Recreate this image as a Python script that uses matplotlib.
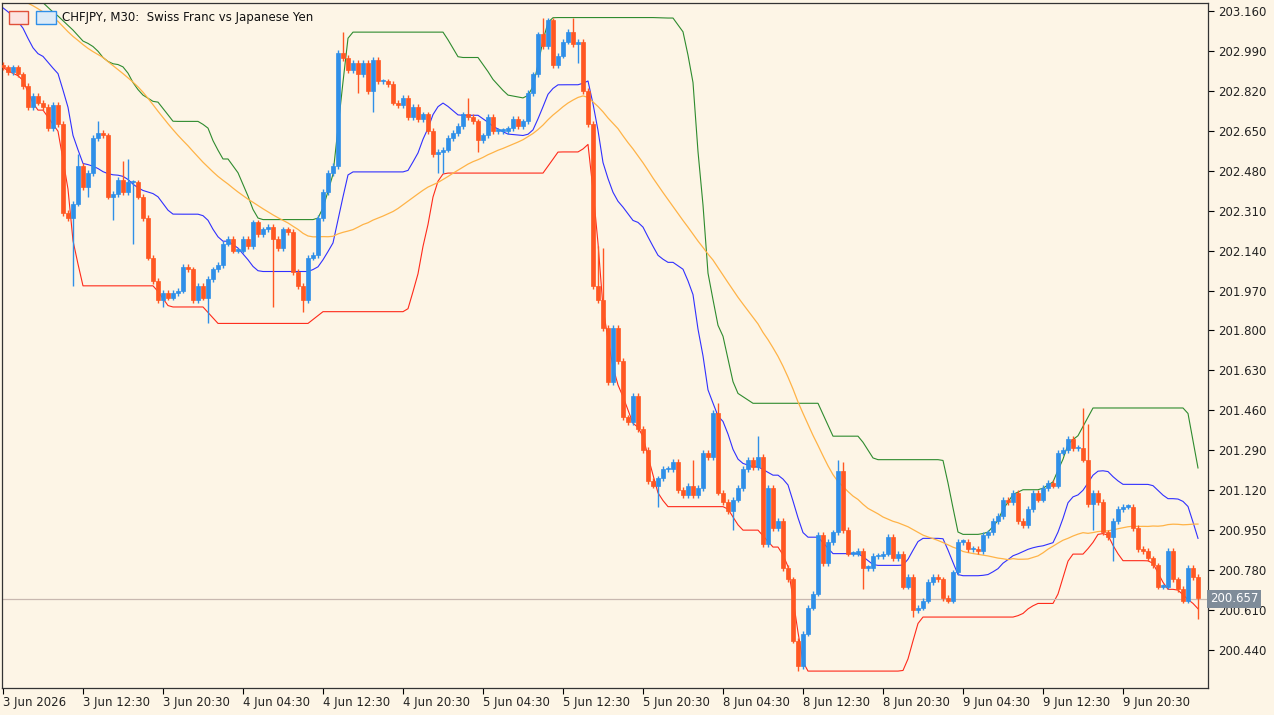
import numpy as np
import pandas as pd
import matplotlib
matplotlib.use("Agg")
import matplotlib.pyplot as plt
from matplotlib.patches import Rectangle

symbol_title = "CHFJPY, M30:  Swiss Franc vs Japanese Yen"

# bars before the visible window (warm-up for indicators)
pre_close = [203.22,203.25,203.20,203.24,203.27,203.23,203.26,203.21,203.19,203.22,
             203.30,203.33,203.36,203.38,203.35,203.40,203.42,203.38,203.36,203.39,203.41,203.37,
             203.33,203.35,203.30,203.28,203.31,203.27,203.24,203.26,203.22,203.25,203.29,203.32,
             203.35,203.38,203.42,203.40,203.37,203.33,203.30,203.26,203.22,203.18,203.20,203.15,
             203.12,203.14,203.10,203.06,203.08,203.04,203.00,202.98,203.01,202.97,202.95,202.93]

close = [202.92,202.90,202.92,202.89,202.84,202.75,202.80,202.77,202.75,202.66,
         202.76,202.68,202.30,202.28,202.34,202.50,202.41,202.47,202.62,202.64,
         202.63,202.37,202.38,202.44,202.39,202.43,202.43,202.37,202.28,202.11,
         202.01,201.93,201.96,201.94,201.96,201.97,202.07,202.06,201.93,201.99,
         201.94,202.02,202.06,202.08,202.17,202.19,202.14,202.14,202.19,202.16,
         202.26,202.21,202.23,202.24,202.19,202.15,202.23,202.22,202.05,201.99,
         201.93,202.11,202.12,202.28,
         202.39,202.47,202.50,202.98,202.96,202.91,202.94,202.89,202.94,202.82,
         202.95,202.86,202.86,202.85,202.77,202.76,202.79,202.71,202.75,202.70,
         202.72,202.65,202.55,202.56,202.57,202.62,202.64,202.67,202.72,202.71,
         202.69,202.61,202.63,202.71,202.65,202.65,202.65,202.66,202.70,202.67,
         202.69,202.81,202.89,203.06,203.01,203.12,202.93,202.97,203.03,203.07,
         203.02,203.03,202.82,202.68,201.99,201.93,201.81,201.58,201.81,201.67,
         201.43,201.41,201.52,201.38,201.29,201.16,201.14,201.17,201.21,201.21,
         201.24,201.12,201.10,201.14,201.10,201.13,201.28,201.26,201.45,201.11,
         201.07,201.03,201.08,201.13,201.21,201.25,201.22,201.26,200.89,201.13,
         200.96,200.99,200.79,200.74,200.48,200.37,200.51,200.62,200.68,200.93,
         200.81,200.90,200.94,201.20,200.95,200.85,200.85,200.86,200.79,200.79,
         200.84,200.84,200.85,200.92,200.83,200.85,200.71,200.75,200.61,200.62,
         200.65,200.73,200.75,200.74,200.66,200.65,200.77,200.90,200.90,200.87,
         200.87,200.86,200.93,200.94,200.99,201.01,201.08,201.07,201.11,200.99,
         200.97,201.04,201.11,201.08,201.13,201.15,201.14,201.28,201.29,201.34,
         201.30,201.30,201.25,201.06,201.11,201.07,200.94,200.92,200.99,201.04,
         201.05,201.05,200.96,200.87,200.86,200.83,200.80,200.71,200.71,200.86,
         200.74,200.70,200.65,200.79,200.75,200.66]

# notable long wicks (visible bar index -> price)
wick_high = {15: 202.55, 19: 202.69, 24: 202.52, 25: 202.53, 68: 203.07, 93: 202.79,
             108: 203.13, 109: 203.13, 114: 203.13, 119: 202.16, 120: 202.15, 138: 201.25,
             143: 201.49, 151: 201.35, 167: 201.25, 168: 201.24, 216: 201.47, 217: 201.40}
wick_low = {14: 201.99, 17: 202.37, 22: 202.27, 26: 202.17, 32: 201.90, 41: 201.83,
            54: 201.90, 60: 201.88, 71: 202.81, 74: 202.73, 87: 202.47, 88: 202.47,
            95: 202.56, 115: 202.94, 131: 201.05, 146: 200.95, 159: 200.35, 172: 200.70,
            182: 200.58, 218: 200.95, 222: 200.82, 239: 200.57}
default_wick = 0.012

current_price = 200.657
y_ticks = [203.160, 202.990, 202.820, 202.650, 202.480, 202.310, 202.140, 201.970,
           201.800, 201.630, 201.460, 201.290, 201.120, 200.950, 200.780, 200.610, 200.440]
x_labels = ["3 Jun 2026", "3 Jun 12:30", "3 Jun 20:30", "4 Jun 04:30", "4 Jun 12:30",
            "4 Jun 20:30", "5 Jun 04:30", "5 Jun 12:30", "5 Jun 20:30", "8 Jun 04:30",
            "8 Jun 12:30", "8 Jun 20:30", "9 Jun 04:30", "9 Jun 12:30", "9 Jun 20:30"]
bars_per_label = 16

# ---- build OHLC (pre-history + visible) ----
allc = np.array(pre_close + close)
npre = len(pre_close)
opens = np.concatenate([[allc[0]], allc[:-1]])
highs = np.maximum(opens, allc) + default_wick
lows = np.minimum(opens, allc) - default_wick
for k, v in wick_high.items():
    highs[npre + k] = max(highs[npre + k], v)
for k, v in wick_low.items():
    lows[npre + k] = min(lows[npre + k], v)

df = pd.DataFrame({"o": opens, "h": highs, "l": lows, "c": allc})
period = 21
upper = df["h"].rolling(period, min_periods=1).max().rolling(3, min_periods=1).mean()
lower = df["l"].rolling(period, min_periods=1).min().rolling(3, min_periods=1).mean()
mid = (upper + lower) / 2
ma = df["c"].rolling(50, min_periods=1).mean()

x = np.arange(len(df)) - npre

BG = "#FDF5E6"
UP = "#2F8FE8"
DN = "#FF5722"

fig = plt.figure(figsize=(12.74, 7.15), dpi=100, facecolor=BG)
ax = fig.add_axes([2/1274, 27/715, 1206/1274, 685/715])
ax.set_facecolor(BG)

vis = x >= -2
ax.plot(x[vis], upper[vis], color="#2E8B2E", lw=0.8)
ax.plot(x[vis], lower[vis], color="#FF2A1A", lw=0.8)
ax.plot(x[vis], mid[vis], color="#3030FF", lw=0.8)
ax.plot(x[vis], ma[vis], color="#FFB347", lw=0.9)

ax.axhline(current_price, color="#C8B8B0", lw=0.9)

for i in range(npre, len(df)):
    xi = x[i]
    o, h, l, c = df.iloc[i]
    col = UP if c >= o else DN
    ax.vlines(xi, l, h, color=col, lw=1.0, zorder=3)
    b0, b1 = min(o, c), max(o, c)
    hgt = max(b1 - b0, 0.006)
    ax.add_patch(Rectangle((xi - 0.32, b0), 0.64, hgt, facecolor=col, edgecolor=col, lw=0.5, zorder=4))

ax.set_xlim(-0.2, 241.0)
ax.set_ylim(200.278, 203.194)

ax.yaxis.tick_right()
ax.set_yticks(y_ticks)
ax.set_yticklabels([f"{v:.3f}" for v in y_ticks], fontsize=8.5, color="#222222")
ax.tick_params(axis="y", length=4, width=0.8, pad=3)
ticks_x = [i * bars_per_label for i in range(len(x_labels))]
ax.set_xticks(ticks_x)
ax.set_xticklabels(x_labels, fontsize=8.5, color="#222222", ha="left")
ax.tick_params(axis="x", length=4, width=0.8, pad=2)
for s in ax.spines.values():
    s.set_color("#333333")
    s.set_linewidth(0.9)

ax.text(1.0015, current_price, f"{current_price:.3f}", transform=ax.get_yaxis_transform(),
        fontsize=8.5, color="white", va="center", ha="left",
        bbox=dict(boxstyle="square,pad=0.25", facecolor="#7F8C99", edgecolor="none"))

# title icons and text
fig.patches.append(Rectangle((9/1274, 1-24/715), 19/1274, 13/715, transform=fig.transFigure,
                             facecolor="#FCE4E0", edgecolor="#E0503A", lw=1))
fig.patches.append(Rectangle((36/1274, 1-24/715), 20/1274, 13/715, transform=fig.transFigure,
                             facecolor="#DDEBF7", edgecolor="#2F8FE8", lw=1))
fig.text(62/1274, 1-17/715, symbol_title, fontsize=8.5, color="#111111", va="center", ha="left")

fig.savefig("out.png", dpi=100, facecolor=BG)
